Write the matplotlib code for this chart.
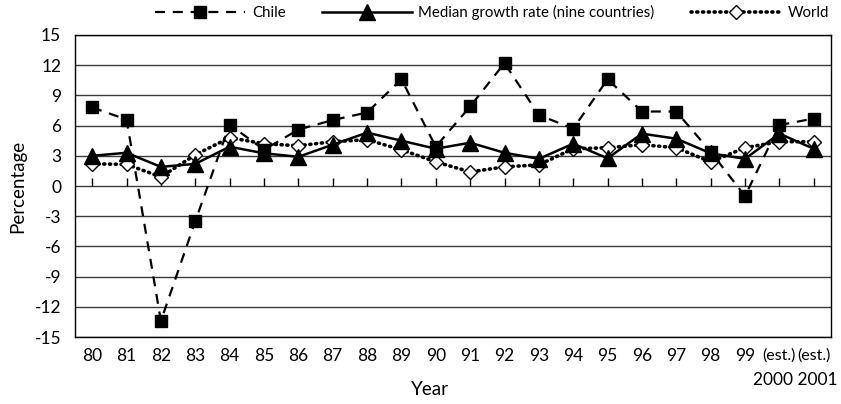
import matplotlib
matplotlib.use("Agg")
import matplotlib.pyplot as plt
import matplotlib.transforms as mtransforms

plt.rcParams['font.family'] = ['Lato', 'DejaVu Sans']

# Data
years = ['80', '81', '82', '83', '84', '85', '86', '87', '88', '89', '90',
         '91', '92', '93', '94', '95', '96', '97', '98', '99', '2000', '2001']
estimated = ['2000', '2001']
chile = [7.8, 6.6, -13.4, -3.5, 6.1, 3.6, 5.6, 6.55, 7.3, 10.6, 3.9,
         7.9, 12.2, 7.05, 5.7, 10.6, 7.4, 7.4, 3.4, -1.0, 6.05, 6.7]
median = [3.0, 3.3, 1.9, 2.2, 3.9, 3.25, 2.9, 4.1, 5.3, 4.5, 3.7,
          4.3, 3.3, 2.7, 4.2, 2.75, 5.2, 4.7, 3.25, 2.7, 5.2, 3.7]
world = [2.2, 2.15, 0.9, 3.1, 4.8, 4.2, 4.0, 4.4, 4.6, 3.6, 2.4,
         1.4, 1.9, 2.1, 3.7, 3.8, 4.1, 3.8, 2.4, 3.8, 4.4, 4.4]
y_ticks = list(range(-15, 16, 3))

fig = plt.figure(figsize=(8.41, 4.04), dpi=100)
ax = fig.add_axes([0.0892, 0.1658, 0.8988, 0.7476])

x = list(range(len(years)))

# horizontal gridlines
for yv in y_ticks:
    ax.axhline(yv, color='#3a3a3a', lw=1.0, zorder=1)

# tick marks sitting on the zero line
ax.vlines(x, 0, 0.8, color='black', lw=1.0, zorder=1)

ax.plot(x, world, color='black', lw=2.6, linestyle=(0, (0.3, 1.3)),
        dash_capstyle='round', marker='D', markersize=7.5,
        markerfacecolor='white', markeredgecolor='black', markeredgewidth=1.0,
        label='World', zorder=3)
ax.plot(x, chile, color='black', lw=1.6, linestyle=(0, (4.5, 3.5)),
        marker='s', markersize=8, markerfacecolor='black',
        markeredgecolor='black', label='Chile', zorder=4)
ax.plot(x, median, color='black', lw=1.8, linestyle='-', marker='^',
        markersize=11, markerfacecolor='black', markeredgecolor='black',
        label='Median growth rate (nine countries)', zorder=5)

ax.set_xlim(-0.5, len(years) - 0.5)
ax.set_ylim(-15, 15)
ax.set_yticks(y_ticks)
ax.set_yticklabels([str(v) for v in y_ticks])
ax.set_xticks(x)
ax.set_xticklabels(['(est.)' if y in estimated else y for y in years])
ax.tick_params(axis='both', length=0, labelsize=12.5, pad=8)
ax.tick_params(axis='y', pad=10)
for lbl in ax.get_xticklabels():
    if lbl.get_text() == '(est.)':
        lbl.set_fontsize(11.5)

# second line under the estimated years
trans = mtransforms.blended_transform_factory(ax.transData, ax.transAxes)
ax.text(len(years) - 0.32, -0.115, ' '.join(estimated), transform=trans,
        ha='right', va='top', fontsize=12.5)

for s in ax.spines.values():
    s.set_color('black')
    s.set_linewidth(1.0)

ax.set_ylabel('Percentage', fontsize=13.5, labelpad=6)
ax.set_xlabel('Year', fontsize=13.5, labelpad=0)
ax.xaxis.set_label_coords(0.47, -0.145)
ax.xaxis.label.set_va('top')

handles, labels = ax.get_legend_handles_labels()
order = [1, 2, 0]
fig.legend([handles[i] for i in order], [labels[i] for i in order],
           loc='upper center', bbox_to_anchor=(0.585, 1.02), ncol=3,
           frameon=False, fontsize=10.8, handlelength=6.0, columnspacing=2.4,
           handletextpad=0.45)

fig.savefig('out.png', dpi=100)
